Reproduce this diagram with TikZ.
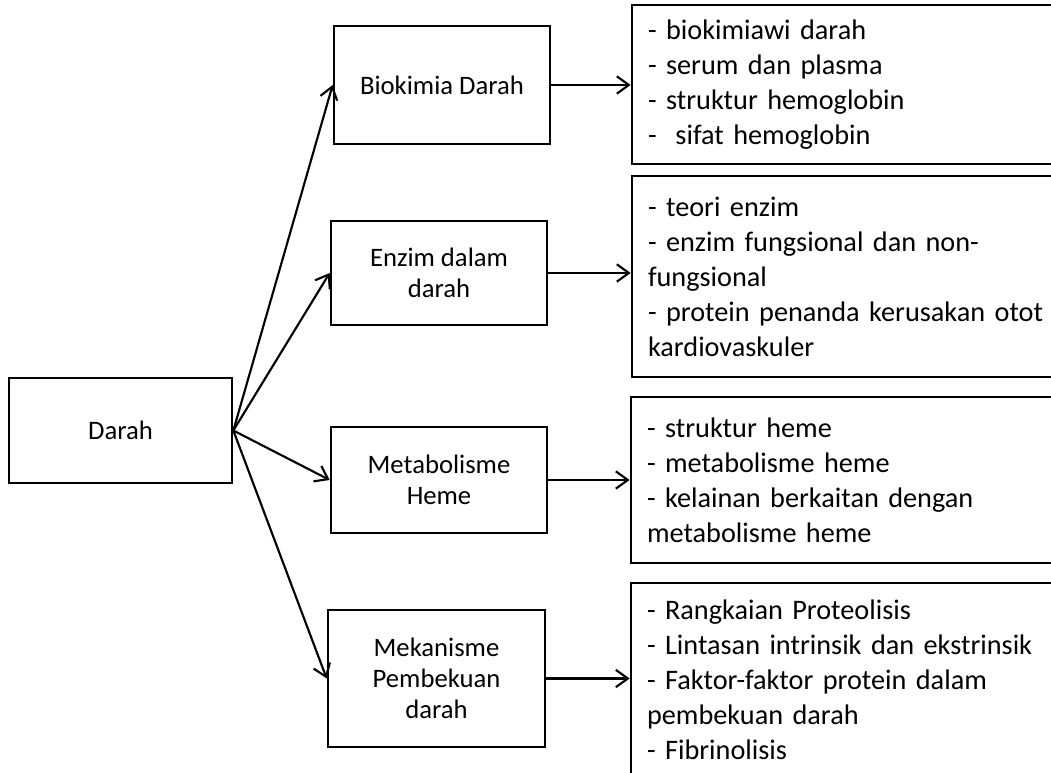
\documentclass[tikz,border=0pt]{standalone}
\usepackage{fontspec}
\setmainfont{Carlito}
\usetikzlibrary{arrows.meta}

\begin{document}
\begin{tikzpicture}[x=0.75pt,y=-0.75pt,
        box/.style={draw, line width=2pt, inner sep=0pt, align=center,
            font=\fontsize{20pt}{23.25pt}\selectfont},
        list/.style={draw, line width=2pt, inner xsep=12pt, inner ysep=0pt,
            text width=327pt, align=left,
            font=\fontsize{21.2pt}{26.25pt}\selectfont},
        arr/.style={line width=1.6pt, -{Straight Barb[length=9pt,width=13pt,line width=1.6pt]}}]
        \useasboundingbox (0,0) rectangle (1051,773);
        \clip (0,0) rectangle (1051,773);

        \node[box, minimum width=167.25pt, minimum height=78.75pt] (darah) at (120.5,430.5) {Darah};

        \node[box, minimum width=162pt, minimum height=88.5pt] (biokimia) at (442,85) {Biokimia Darah};
        \node[box, minimum width=162pt, minimum height=78pt] (enzim) at (439,273) {Enzim dalam\\darah};
        \node[box, minimum width=162pt, minimum height=79.5pt] (heme) at (439,480) {Metabolisme\\Heme};
        \node[box, minimum width=162.75pt, minimum height=102.75pt] (beku) at (436.5,678.5) {Mekanisme\\Pembekuan\\darah};

        \node[list, minimum height=119.25pt] (lbiokimia) at (866,84.5) {- biokimiawi darah\\- serum dan plasma\\- struktur hemoglobin\\- \ sifat hemoglobin};
        \node[list, minimum height=150.75pt] (lenzim) at (866,276.5) {- teori enzim\\- enzim fungsional dan non-\\fungsional\\- protein penanda kerusakan otot\\kardiovaskuler};
        \node[list, minimum height=124.5pt] (lheme) at (865,480) {- struktur heme\\- metabolisme heme\\- kelainan berkaitan dengan\\metabolisme heme};
        \node[list, minimum height=145.5pt] (lbeku) at (865,680) {- Rangkaian Proteolisis\\- Lintasan intrinsik dan ekstrinsik\\- Faktor-faktor protein dalam\\pembekuan darah\\- Fibrinolisis};

        \draw[arr] (darah.east) -- (biokimia.west);
        \draw[arr] (darah.east) -- (enzim.west);
        \draw[arr] (darah.east) -- (heme.west);
        \draw[arr] (darah.east) -- (beku.west);

        \draw[arr] (biokimia.east) -- (biokimia.east -| lbiokimia.west);
        \draw[arr] (enzim.east) -- (enzim.east -| lenzim.west);
        \draw[arr] (heme.east) -- (heme.east -| lheme.west);
        \draw[arr] (beku.east) -- (beku.east -| lbeku.west);
    \end{tikzpicture}
\end{document}
